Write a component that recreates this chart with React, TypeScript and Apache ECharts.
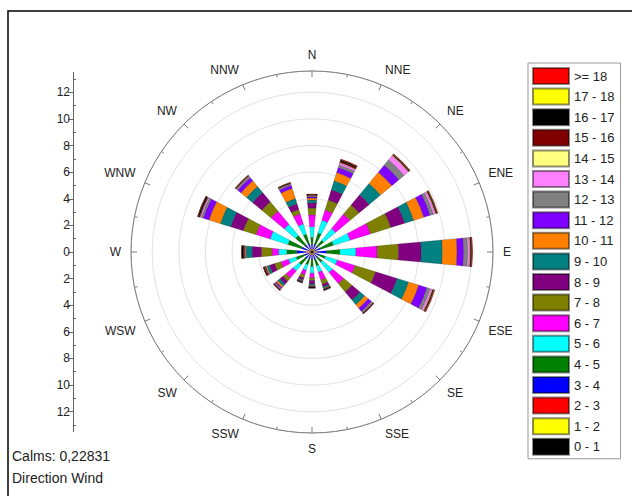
import React, { useEffect, useRef } from 'react';
import * as echarts from 'echarts';

const directions = ['N', 'NNE', 'NE', 'ENE', 'E', 'ESE', 'SE', 'SSE', 'S', 'SSW', 'SW', 'WSW', 'W', 'WNW', 'NW', 'NNW'];

const bins = ['0 - 1', '1 - 2', '2 - 3', '3 - 4', '4 - 5', '5 - 6', '6 - 7', '7 - 8', '8 - 9', '9 - 10',
  '10 - 11', '11 - 12', '12 - 13', '13 - 14', '14 - 15', '15 - 16', '16 - 17', '17 - 18', '>= 18'];

const binColors = ['#000000', '#FFFF00', '#FF0000', '#0000FF', '#008000', '#00FFFF', '#FF00FF', '#808000',
  '#800080', '#008080', '#FF8000', '#8000FF', '#808080', '#FF80FF', '#FFFF80', '#800000', '#000000', '#FFFF00', '#FF0000'];

// frequency (%) per speed bin, one array per direction (bins 0-1 ... >=18)
const dirN = [0.1, 0.05, 0.1, 0.35, 0.5, 0.8, 0.9, 0.5, 0.4, 0.2, 0.15, 0.1, 0.06, 0.04, 0.02, 0.03, 0.03, 0.01, 0.02];
const dirNNE = [0.1, 0.05, 0.1, 0.4, 0.85, 1.0, 0.8, 0.8, 0.8, 0.7, 0.65, 0.4, 0.2, 0.15, 0.05, 0.1, 0.1, 0.02, 0.05];
const dirNE = [0.1, 0.05, 0.1, 0.3, 0.6, 1.15, 1.4, 0.9, 1.0, 1.1, 1.1, 0.7, 0.5, 0.4, 0.05, 0.05, 0.05, 0.02, 0.03];
const dirENE = [0.1, 0.05, 0.1, 0.45, 1.0, 1.3, 1.6, 1.6, 1.1, 0.7, 0.8, 0.5, 0.25, 0.15, 0.05, 0.05, 0.05, 0.02, 0.03];
const dirE = [0.15, 0.1, 0.15, 0.7, 1.0, 1.2, 1.6, 1.6, 1.7, 1.6, 1.1, 0.5, 0.3, 0.15, 0.05, 0.05, 0.05, 0.02, 0.05];
const dirESE = [0.1, 0.05, 0.1, 0.35, 0.45, 0.95, 1.4, 1.6, 1.7, 0.9, 0.8, 0.65, 0.25, 0.15, 0.05, 0.05, 0.05, 0.02, 0.05];
const dirSE = [0.1, 0.05, 0.1, 0.3, 0.45, 1.0, 1.1, 0.8, 0.8, 0.45, 0.35, 0.3, 0.1, 0.05, 0.02, 0.02, 0.03, 0.01, 0.02];
const dirSSE = [0.1, 0.05, 0.1, 0.35, 0.5, 0.5, 0.6, 0.35, 0.2, 0.1, 0.05, 0.03, 0.02, 0.01, 0.01, 0.02, 0.03, 0.01, 0.01];
const dirS = [0.1, 0.05, 0.1, 0.35, 0.5, 0.5, 0.35, 0.2, 0.25, 0.12, 0.05, 0.04, 0.02, 0.01, 0.01, 0.02, 0.04, 0.01, 0.01];
const dirSSW = [0.1, 0.05, 0.1, 0.3, 0.45, 0.45, 0.35, 0.25, 0.15, 0.08, 0.04, 0.03, 0.02, 0.01, 0.01, 0.01, 0.02, 0.01, 0.01];
const dirSW = [0.1, 0.05, 0.1, 0.4, 0.6, 0.6, 0.7, 0.3, 0.3, 0.2, 0.15, 0.1, 0.05, 0.03, 0.02, 0.02, 0.03, 0.01, 0.02];
const dirWSW = [0.1, 0.05, 0.1, 0.35, 0.65, 0.6, 0.6, 0.5, 0.4, 0.2, 0.1, 0.05, 0.03, 0.02, 0.01, 0.02, 0.04, 0.01, 0.02];
const dirW = [0.2, 0.1, 0.2, 0.65, 0.75, 0.6, 0.5, 0.8, 0.7, 0.45, 0.1, 0.05, 0.03, 0.02, 0.01, 0.02, 0.1, 0.01, 0.02];
const dirWNW = [0.1, 0.05, 0.15, 0.5, 1.1, 1.4, 1.1, 1.0, 1.0, 0.8, 0.9, 0.45, 0.15, 0.1, 0.03, 0.05, 0.1, 0.01, 0.03];
const dirNW = [0.1, 0.05, 0.1, 0.45, 0.9, 1.1, 1.3, 0.9, 0.9, 0.6, 0.55, 0.3, 0.1, 0.05, 0.02, 0.03, 0.03, 0.01, 0.03];
const dirNNW = [0.1, 0.05, 0.1, 0.4, 0.75, 0.8, 0.8, 0.35, 0.45, 0.4, 0.8, 0.25, 0.08, 0.04, 0.02, 0.03, 0.03, 0.01, 0.02];

const directionValues = [dirN, dirNNE, dirNE, dirENE, dirE, dirESE, dirSE, dirSSE, dirS, dirSSW, dirSW, dirWSW, dirW, dirWNW, dirNW, dirNNW];

const rulerMajor = [-12, -10, -8, -6, -4, -2, 0, 2, 4, 6, 8, 10, 12];
const rulerMinor = [-13, -11, -9, -7, -5, -3, -1, 1, 3, 5, 7, 9, 11, 13];

const calmsText = 'Calms: 0,22831';
const footerText = 'Direction Wind';

const FONT = 'Liberation Sans, Arial, sans-serif';

export default function App() {
  const ref = useRef<HTMLDivElement>(null);

  useEffect(() => {
    if (!ref.current) return;
    const chart = echarts.init(ref.current, undefined, { renderer: 'svg' });

    const series = bins.map((name, i) => ({
      name,
      type: 'bar',
      coordinateSystem: 'polar',
      polarIndex: 0,
      stack: 'wind',
      barWidth: '47%',
      itemStyle: { color: binColors[i], borderColor: 'rgba(0,0,0,0.45)', borderWidth: 0.4 },
      emphasis: { disabled: true },
      data: directionValues.map((d) => d[i]),
    }));

    chart.setOption({
      animation: false,
      backgroundColor: '#ffffff',
      polar: [
        { center: [312, 252], radius: 181 },
        { center: [312, 252], radius: 181 },
      ],
      angleAxis: [
        {
          polarIndex: 0,
          type: 'category',
          data: directions,
          startAngle: 90 + 11.25,
          clockwise: true,
          boundaryGap: true,
          axisLine: { show: false },
          axisTick: { show: false },
          axisLabel: { show: false },
          splitLine: { show: false },
        },
        {
          polarIndex: 1,
          type: 'value',
          min: 0,
          max: 360,
          interval: 22.5,
          startAngle: 90,
          clockwise: true,
          axisLine: { show: true, lineStyle: { color: '#7a7a7a', width: 1 } },
          axisTick: { show: true, inside: true, length: 6, lineStyle: { color: '#7a7a7a' } },
          minorTick: { show: true, splitNumber: 2, length: 3, lineStyle: { color: '#7a7a7a' } },
          axisLabel: {
            margin: 10,
            color: '#222',
            fontSize: 12,
            fontFamily: FONT,
            formatter: (v: number) => (v >= 360 ? '' : directions[Math.round(v / 22.5) % 16]),
          },
          splitLine: { show: false },
        },
      ],
      radiusAxis: [
        {
          polarIndex: 0,
          type: 'value',
          min: 0,
          max: 13.6,
          interval: 2,
          axisLine: { show: false },
          axisTick: { show: false },
          axisLabel: { show: false },
          splitLine: { show: true, lineStyle: { color: '#e2e2e2', width: 1 } },
        },
        {
          polarIndex: 1,
          type: 'value',
          min: 0,
          max: 13.6,
          show: false,
          splitLine: { show: false },
        },
      ],
      grid: { left: 73, top: 72.5, width: 10, height: 359 },
      xAxis: { type: 'value', show: false },
      yAxis: [
        {
          type: 'value',
          min: -13.5,
          max: 13.5,
          position: 'left',
          axisLine: { show: true, lineStyle: { color: '#666', width: 1 } },
          axisTick: { show: true, length: 5, customValues: rulerMajor, lineStyle: { color: '#666' } },
          axisLabel: {
            customValues: rulerMajor,
            margin: 3,
            color: '#222',
            fontSize: 12,
            fontFamily: FONT,
            formatter: (v: number) => String(Math.abs(v)),
          },
          splitLine: { show: false },
        },
        {
          type: 'value',
          min: -13.5,
          max: 13.5,
          position: 'left',
          offset: 0,
          axisLine: { show: false },
          axisTick: { show: true, inside: true, length: 3, customValues: rulerMinor, lineStyle: { color: '#666' } },
          axisLabel: { show: false },
          splitLine: { show: false },
        },
      ],
      legend: {
        orient: 'vertical',
        left: 528,
        top: 63,
        padding: [4, 6, 3, 4],
        itemWidth: 36,
        itemHeight: 16,
        itemGap: 2.6,
        icon: 'rect',
        borderColor: '#999',
        borderWidth: 1,
        selectedMode: false,
        textStyle: { fontSize: 13, color: '#222', fontFamily: FONT },
        data: [...bins].reverse(),
      },
      graphic: [
        {
          type: 'rect',
          silent: true,
          z: -10,
          shape: { x: 8, y: 11, width: 640, height: 500 },
          style: { fill: 'none', stroke: '#000', lineWidth: 1.5 },
        },
        {
          type: 'text',
          left: 12,
          top: 449,
          style: { text: calmsText, fontSize: 14, fill: '#222', fontFamily: FONT },
        },
        {
          type: 'text',
          left: 12,
          top: 471,
          style: { text: footerText, fontSize: 14, fill: '#222', fontFamily: FONT },
        },
      ],
      series,
    });

    return () => chart.dispose();
  }, []);

  return (
    <div
      ref={ref}
      style={{ position: 'fixed', left: 0, top: 0, width: 632, height: 496, background: '#fff' }}
    />
  );
}
